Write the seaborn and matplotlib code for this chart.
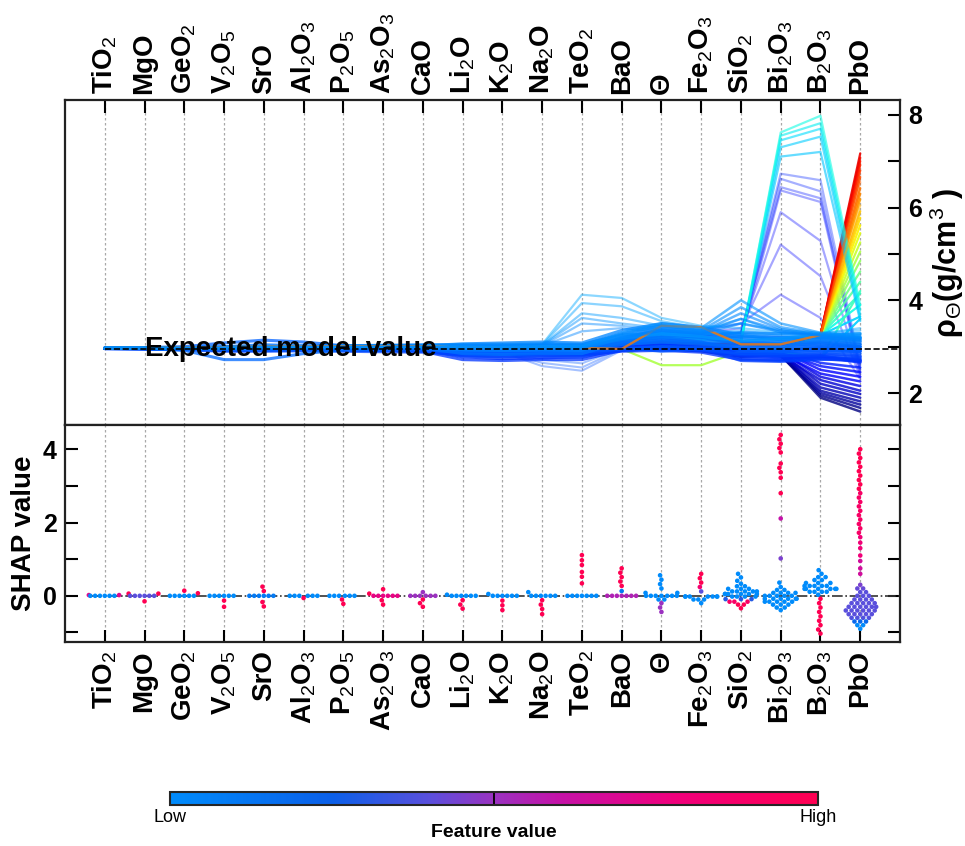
import numpy as np
import pandas as pd
import matplotlib
matplotlib.use("Agg")
import matplotlib.pyplot as plt
import seaborn as sns
from matplotlib.colors import LinearSegmentedColormap, Normalize
from matplotlib.cm import ScalarMappable
from matplotlib.ticker import FixedLocator

sns.set_style("white")
plt.rcParams["font.family"] = ["Liberation Sans", "DejaVu Sans"]
plt.rcParams["mathtext.fontset"] = "custom"
plt.rcParams["mathtext.rm"] = "Liberation Sans"
plt.rcParams["mathtext.it"] = "Liberation Sans:italic"
plt.rcParams["mathtext.bf"] = "Liberation Sans:bold"
for key in ("text.color", "axes.labelcolor", "xtick.color", "ytick.color"):
    plt.rcParams[key] = "black"

# ---------------- data ----------------
features = ["TiO2", "MgO", "GeO2", "V2O5", "SrO", "Al2O3", "P2O5", "As2O3", "CaO", "Li2O",
            "K2O", "Na2O", "TeO2", "BaO", "Θ", "Fe2O3", "SiO2", "Bi2O3", "B2O3", "PbO"]
feature_labels = ["TiO$_2$", "MgO", "GeO$_2$", "V$_2$O$_5$", "SrO", "Al$_2$O$_3$", "P$_2$O$_5$",
                  "As$_2$O$_3$", "CaO", "Li$_2$O", "K$_2$O", "Na$_2$O", "TeO$_2$", "BaO", "Θ",
                  "Fe$_2$O$_3$", "SiO$_2$", "Bi$_2$O$_3$", "B$_2$O$_3$", "PbO"]
expected_value = 2.96

# decision paths (cumulative model output after each feature)
main_lines = [
    [2.97,2.97,2.98,2.98,3.00,3.00,3.01,3.02,3.03,3.05,3.05,3.06,3.05,3.25,3.30,3.28,3.30,3.28,3.25,3.20],
    [2.97,2.97,2.97,2.96,2.97,2.97,2.98,2.99,3.00,3.02,3.02,3.03,3.02,3.15,3.20,3.18,3.22,3.20,3.18,3.10],
    [2.96,2.96,2.95,2.94,2.95,2.95,2.96,2.96,2.96,2.95,2.95,2.96,2.95,3.05,3.10,3.08,3.05,3.05,3.05,3.00],
    [2.96,2.95,2.94,2.92,2.92,2.93,2.93,2.92,2.92,2.88,2.87,2.88,2.88,2.95,3.00,2.98,2.95,2.92,2.95,2.90],
    [2.96,2.95,2.93,2.90,2.90,2.91,2.90,2.89,2.88,2.82,2.80,2.82,2.82,2.92,2.95,2.92,2.85,2.80,2.82,2.78],
    [2.96,2.96,2.96,2.97,2.99,2.98,2.97,2.96,2.95,2.90,2.88,2.90,2.90,3.00,3.05,3.02,2.90,2.80,2.75,2.70],
    [2.96,2.97,2.98,3.00,3.04,3.02,3.01,3.00,3.00,2.98,2.97,2.98,2.97,3.10,3.15,3.12,3.10,3.08,3.12,3.05],
    [2.97,2.97,2.97,2.97,2.98,2.98,2.98,2.98,2.98,2.93,2.92,2.93,2.92,3.20,3.35,3.30,3.20,3.15,3.20,3.15],
    [2.96,2.96,2.95,2.93,2.94,2.94,2.94,2.94,2.93,2.86,2.84,2.86,2.85,3.00,3.05,3.00,2.75,2.72,2.78,2.72],
    [2.96,2.96,2.96,2.95,2.96,2.96,2.96,2.95,2.95,2.92,2.90,2.92,2.91,2.98,2.90,2.95,2.85,2.85,2.88,2.85],
    [2.97,2.97,2.98,2.99,3.01,3.01,3.02,3.03,3.04,3.02,3.02,3.04,3.03,3.28,3.45,3.35,3.15,3.10,3.15,3.12],
    [2.97,2.96,2.95,2.94,2.95,2.96,2.97,2.97,2.97,2.93,2.92,2.94,2.93,3.10,3.20,3.10,2.90,2.88,2.92,2.90],
    [2.96,2.96,2.96,2.96,2.97,2.97,2.97,2.97,2.96,2.90,2.88,2.89,2.88,2.96,3.00,2.96,2.70,2.68,2.72,2.75],
    [2.96,2.96,2.97,2.98,3.00,3.00,3.00,3.00,3.00,2.97,2.96,2.97,2.96,3.12,3.25,3.20,3.05,3.00,3.08,3.00],
    [2.97,2.96,2.92,2.72,2.72,2.85,2.93,2.95,2.95,2.92,2.91,2.92,2.91,3.05,3.10,3.05,3.00,2.98,3.02,3.00],
    [2.97,2.98,3.00,3.08,3.14,3.10,3.02,3.00,2.99,2.95,2.94,2.95,2.94,3.05,3.12,3.08,3.00,2.95,3.00,2.95],
    [2.96,2.96,2.95,2.95,2.96,2.96,2.96,2.95,2.94,2.78,2.74,2.76,2.78,2.94,2.98,2.95,2.82,2.78,2.80,2.66],
    [2.97,2.97,2.97,2.98,2.99,2.99,3.00,3.00,3.00,2.99,2.98,3.00,3.00,3.18,3.28,3.22,3.12,3.18,3.25,3.28],
    [2.96,2.96,2.95,2.94,2.94,2.94,2.93,2.92,2.90,2.72,2.70,2.72,2.72,2.92,2.96,2.92,2.80,2.76,2.80,2.70],
    [2.96,2.96,2.96,2.95,2.95,2.95,2.95,2.94,2.92,2.80,2.78,2.80,2.80,2.96,3.00,2.96,2.82,2.80,2.85,2.80],
    [2.97,2.97,2.97,2.97,2.98,2.98,2.98,2.98,2.97,2.85,2.83,2.85,2.85,3.10,3.30,3.25,3.10,3.05,3.10,3.05],
    [2.97,2.97,2.98,2.99,3.00,3.00,3.01,3.02,3.02,3.06,3.08,3.10,3.08,3.35,3.50,3.42,3.25,3.15,3.20,3.18],
    [2.96,2.96,2.96,2.96,2.97,2.97,2.97,2.96,2.95,2.88,2.86,2.88,2.86,3.05,3.15,3.08,2.95,2.90,2.98,2.92],
    [2.96,2.95,2.94,2.93,2.93,2.93,2.93,2.92,2.91,2.84,2.82,2.84,2.83,2.90,2.92,2.88,2.72,2.70,2.74,2.68],
]
teo2_high_lines = [
    [2.97,2.97,2.98,2.98,2.99,3.00,3.00,3.01,3.01,3.02,3.03,3.05,4.12,4.05,3.62,3.45,3.40,3.30,3.28,3.40],
    [2.97,2.97,2.97,2.97,2.98,2.98,2.99,3.00,3.00,3.01,3.02,3.04,3.94,3.87,3.55,3.40,3.50,3.35,3.30,3.35],
    [2.96,2.96,2.97,2.97,2.98,2.98,2.99,2.99,3.00,3.01,3.01,3.03,3.72,3.62,3.45,3.35,3.60,3.30,3.25,3.30],
    [2.97,2.97,2.97,2.98,2.99,2.99,3.00,3.00,3.01,3.02,3.02,3.03,3.62,3.50,3.40,3.30,3.35,3.25,3.22,3.25],
    [2.96,2.96,2.96,2.97,2.97,2.98,2.98,2.99,2.99,3.00,3.01,3.02,3.50,3.45,3.35,3.28,3.30,3.22,3.20,3.20],
    [2.97,2.97,2.97,2.97,2.98,2.98,2.98,2.99,2.99,3.00,3.00,3.02,3.33,3.40,3.30,3.25,3.28,3.20,3.18,3.18],
]
teo2_low_lines = [
    [2.96,2.96,2.95,2.95,2.95,2.95,2.94,2.94,2.93,2.90,2.88,2.58,2.48,2.92,3.00,2.95,2.90,2.85,2.90,2.85],
    [2.96,2.96,2.96,2.95,2.95,2.95,2.95,2.94,2.94,2.91,2.89,2.65,2.55,2.95,3.02,2.97,2.92,2.88,2.92,2.88],
    [2.96,2.96,2.96,2.96,2.96,2.96,2.95,2.95,2.95,2.92,2.90,2.72,2.64,2.96,3.04,2.98,2.94,2.90,2.95,2.92],
    [2.97,2.97,2.96,2.96,2.96,2.96,2.96,2.96,2.95,2.93,2.92,2.78,2.75,2.97,3.05,3.00,2.96,2.92,2.96,2.95],
]
sio2_peak_lines = [
    [2.97,2.97,2.97,2.98,2.99,2.99,3.00,3.00,3.00,2.99,2.99,3.00,3.00,3.30,3.50,3.40,4.00,3.50,3.30,3.25],
    [2.97,2.97,2.97,2.97,2.98,2.98,2.99,2.99,2.99,2.98,2.98,2.99,2.99,3.25,3.45,3.35,3.85,3.42,3.28,3.22],
    [2.96,2.96,2.97,2.97,2.98,2.98,2.98,2.99,2.99,2.98,2.97,2.98,2.98,3.22,3.40,3.32,3.72,3.38,3.26,3.20],
    [2.96,2.96,2.96,2.97,2.97,2.97,2.98,2.98,2.98,2.97,2.96,2.97,2.97,3.18,3.38,3.30,3.60,3.35,3.25,3.18],
    [2.97,2.97,2.97,2.97,2.98,2.98,2.98,2.98,2.98,2.97,2.97,2.98,2.98,3.15,3.35,3.28,3.50,3.32,3.24,3.15],
]
bi2o3_high_lines = [
    [2.97,2.97,2.97,2.98,2.99,2.99,3.00,3.00,3.00,2.99,2.98,2.99,2.99,3.15,3.25,3.20,3.10,7.62,7.98,3.90],
    [2.97,2.97,2.97,2.97,2.98,2.98,2.99,2.99,2.99,2.98,2.97,2.98,2.98,3.12,3.22,3.18,3.12,7.55,7.82,3.80],
    [2.96,2.96,2.97,2.97,2.98,2.98,2.98,2.99,2.99,2.98,2.97,2.98,2.98,3.10,3.20,3.15,3.08,7.45,7.70,3.70],
    [2.96,2.96,2.96,2.97,2.97,2.97,2.98,2.98,2.98,2.97,2.96,2.97,2.97,3.14,3.24,3.18,3.10,7.30,7.53,3.60],
    [2.97,2.97,2.97,2.97,2.98,2.98,2.98,2.98,2.98,2.97,2.97,2.98,2.98,3.10,3.18,3.14,3.15,7.10,7.20,3.55],
]
bi2o3_mid_lines = [
    [2.97,2.97,2.97,2.98,2.99,2.99,3.00,3.00,3.00,2.98,2.97,2.98,2.98,3.15,3.30,3.25,3.30,6.73,6.59,2.60],
    [2.96,2.96,2.97,2.97,2.98,2.98,2.99,2.99,2.99,2.97,2.96,2.97,2.97,3.12,3.25,3.20,3.25,6.62,6.35,2.55],
    [2.97,2.97,2.97,2.97,2.98,2.98,2.98,2.99,2.99,2.97,2.97,2.98,2.98,3.14,3.28,3.22,3.30,6.44,6.20,2.50],
    [2.96,2.96,2.96,2.97,2.97,2.97,2.98,2.98,2.98,2.96,2.96,2.97,2.97,3.10,3.22,3.18,3.20,6.37,6.12,2.45],
    [2.97,2.97,2.97,2.98,2.98,2.98,2.99,2.99,2.99,2.97,2.97,2.98,2.98,3.16,3.30,3.24,3.30,5.90,5.28,2.40],
    [2.96,2.96,2.97,2.97,2.98,2.98,2.98,2.98,2.98,2.96,2.96,2.97,2.97,3.18,3.35,3.30,3.40,5.20,4.52,2.35],
    [2.97,2.97,2.97,2.97,2.98,2.98,2.98,2.99,2.99,2.97,2.97,2.98,2.98,3.20,3.40,3.35,3.50,4.12,3.62,2.30],
]
low_fan_lines = [
    [2.96,2.96,2.95,2.94,2.94,2.94,2.94,2.93,2.92,2.86,2.84,2.85,2.84,2.92,2.95,2.90,2.78,2.82,1.90,1.60],
    [2.96,2.96,2.96,2.96,2.97,2.97,2.97,2.97,2.96,2.92,2.91,2.92,2.91,3.00,3.05,3.00,2.85,2.84,1.95,1.68],
    [2.97,2.97,2.97,2.98,2.99,2.99,2.99,2.99,2.99,2.96,2.95,2.96,2.95,3.05,3.10,3.05,2.88,2.80,2.00,1.75],
    [2.96,2.96,2.95,2.93,2.93,2.94,2.94,2.94,2.94,2.89,2.88,2.89,2.88,2.96,3.00,2.97,2.86,2.85,2.05,1.82],
    [2.96,2.96,2.96,2.96,2.97,2.97,2.98,2.98,2.98,2.95,2.94,2.95,2.94,3.02,3.08,3.04,2.90,2.83,2.12,1.90],
    [2.96,2.95,2.94,2.92,2.92,2.93,2.93,2.93,2.92,2.87,2.86,2.87,2.86,2.94,2.98,2.94,2.80,2.86,2.20,1.98],
    [2.97,2.97,2.97,2.97,2.98,2.98,2.98,2.98,2.98,2.94,2.93,2.94,2.93,3.00,3.04,3.00,2.84,2.82,2.28,2.05],
    [2.96,2.96,2.96,2.95,2.96,2.96,2.96,2.96,2.95,2.90,2.89,2.90,2.89,2.98,3.02,2.98,2.88,2.88,2.35,2.15],
    [2.97,2.97,2.98,2.99,3.00,3.00,3.00,3.00,3.00,2.97,2.96,2.97,2.96,3.04,3.10,3.06,2.92,2.85,2.42,2.25],
    [2.96,2.96,2.95,2.94,2.95,2.95,2.95,2.95,2.95,2.91,2.90,2.91,2.90,2.97,3.01,2.97,2.90,2.90,2.50,2.35],
    [2.96,2.96,2.96,2.96,2.97,2.97,2.97,2.97,2.97,2.93,2.92,2.93,2.92,3.00,3.05,3.01,2.92,2.88,2.58,2.45],
    [2.97,2.97,2.97,2.98,2.99,2.99,2.99,2.99,2.99,2.95,2.94,2.95,2.94,3.02,3.07,3.03,2.95,2.92,2.65,2.55],
]
# high-PbO fan: shared path up to B2O3, then individual end values at PbO
fan_prefix_bump = [2.97,2.97,2.98,2.99,3.00,3.00,3.01,3.01,3.01,2.98,2.97,2.98,2.97,2.95,3.45,3.42,3.05,3.05,3.25]
fan_final_bump = [6.55, 6.05]
fan_prefix_flat = [2.97,2.97,2.97,2.97,2.98,2.98,2.98,2.98,2.98,2.95,2.94,2.95,2.94,2.95,3.10,3.05,3.06,3.04,3.25]
fan_final_flat = [7.17, 7.08, 7.00, 6.92, 6.80, 6.66, 6.42, 6.30, 6.18, 5.92, 5.78, 5.62, 5.45,
                  5.25, 4.85, 4.62, 4.40, 4.15, 3.90, 3.65]
fan_prefix_dip = [2.96,2.96,2.96,2.96,2.97,2.97,2.97,2.97,2.97,2.94,2.93,2.94,2.93,2.95,2.60,2.60,2.90,2.95,3.25]
fan_final_dip = [5.05]
fan_prefix_low = [2.96,2.96,2.96,2.96,2.97,2.97,2.97,2.97,2.97,2.94,2.93,2.94,2.93,2.95,3.00,2.98,2.95,2.90,2.75]
fan_final_low = [4.20, 3.60]

# beeswarm: SHAP value levels, number of samples at each level, normalised feature value
swarm_shap = {
    "TiO2": [0.02, 0.0],
    "MgO": [0.06, 0.0, -0.15],
    "GeO2": [0.14, 0.07, 0.0],
    "V2O5": [0.0, -0.13, -0.3],
    "SrO": [0.25, 0.13, 0.0, -0.17, -0.29],
    "Al2O3": [0.0, -0.06],
    "P2O5": [0.0, -0.1, -0.22],
    "As2O3": [0.18, 0.06, 0.0, -0.12, -0.24],
    "CaO": [0.1, 0.0, -0.1, -0.2, -0.3],
    "Li2O": [0.03, 0.0, -0.12, -0.24, -0.35],
    "K2O": [0.05, 0.0, -0.13, -0.26, -0.39],
    "Na2O": [0.1, 0.0, -0.12, -0.24, -0.36, -0.5],
    "TeO2": [1.11, 0.97, 0.84, 0.65, 0.52, 0.34, 0.0],
    "BaO": [0.75, 0.63, 0.51, 0.39, 0.27, 0.13, 0.0],
    "Θ": [0.56, 0.44, 0.32, 0.2, 0.08, 0.0, -0.1, -0.2, -0.32, -0.44],
    "Fe2O3": [0.6, 0.48, 0.36, 0.24, 0.12, -0.02, -0.1, -0.2],
    "SiO2": [0.6, 0.5, 0.41, 0.33, 0.26, 0.19, 0.12, 0.05, -0.02, -0.09, -0.16, -0.24, -0.34],
    "Bi2O3": [4.39, 4.27, 4.15, 4.03, 3.91, 3.61, 3.49, 3.37, 3.22, 2.8, 2.11, 1.02, 0.36,
              0.24, 0.16, 0.08, 0.0, -0.08, -0.16, -0.24, -0.32, -0.39],
    "B2O3": [0.7, 0.6, 0.51, 0.43, 0.35, 0.27, 0.19, 0.11, 0.03,
             -0.08, -0.2, -0.32, -0.44, -0.56, -0.68, -0.8, -0.92, -1.03],
    "PbO": [4.0, 3.88, 3.76, 3.64, 3.52, 3.4, 3.28, 3.16, 3.04, 2.92, 2.8, 2.68, 2.56, 2.44,
            2.32, 2.2, 2.08, 1.96, 1.84, 1.72, 1.6, 1.45, 1.3, 1.1, 0.95, 0.75, 0.6,
            0.3, 0.2, 0.1, 0.0, -0.1, -0.2, -0.3, -0.4, -0.5, -0.6, -0.7, -0.8, -0.9],
}
swarm_count = {
    "TiO2": [2, 6], "MgO": [2, 6, 1], "GeO2": [1, 1, 6], "V2O5": [6, 1, 1],
    "SrO": [1, 1, 6, 1, 1], "Al2O3": [6, 1], "P2O5": [6, 1, 1], "As2O3": [1, 1, 6, 1, 1],
    "CaO": [1, 6, 1, 1, 1], "Li2O": [1, 6, 1, 1, 1], "K2O": [1, 6, 1, 1, 1],
    "Na2O": [1, 6, 1, 1, 1, 1], "TeO2": [1, 1, 1, 1, 1, 1, 7], "BaO": [1, 1, 1, 1, 1, 1, 7],
    "Θ": [1, 1, 1, 1, 2, 7, 2, 1, 1, 1], "Fe2O3": [1, 1, 1, 1, 1, 7, 3, 1],
    "SiO2": [1, 1, 1, 1, 2, 3, 5, 6, 4, 3, 3, 2, 1],
    "Bi2O3": [1, 1, 1, 1, 1, 1, 1, 1, 1, 1, 1, 1, 1, 1, 2, 4, 5, 6, 5, 3, 2, 1],
    "B2O3": [1, 1, 2, 2, 3, 5, 6, 4, 1, 1, 1, 1, 1, 1, 1, 1, 1, 1],
    "PbO": [1] * 27 + [1, 2, 2, 3, 4, 5, 6, 6, 5, 4, 3, 2, 1],
}
swarm_fval = {
    "TiO2": [0.7, 0.0], "MgO": [1.0, 0.4, 1.0], "GeO2": [1.0, 1.0, 0.0], "V2O5": [0.0, 1.0, 1.0],
    "SrO": [1.0, 1.0, 0.1, 1.0, 1.0], "Al2O3": [0.0, 1.0], "P2O5": [0.0, 1.0, 1.0],
    "As2O3": [1.0, 1.0, 0.75, 1.0, 1.0], "CaO": [0.5, 0.5, 1.0, 1.0, 1.0],
    "Li2O": [0.0, 0.0, 1.0, 1.0, 1.0], "K2O": [0.0, 0.0, 1.0, 1.0, 1.0],
    "Na2O": [0.0, 0.0, 1.0, 1.0, 1.0, 1.0], "TeO2": [1.0, 1.0, 1.0, 1.0, 1.0, 1.0, 0.0],
    "BaO": [1.0, 1.0, 1.0, 1.0, 1.0, 0.1, 0.55],
    "Θ": [0.0, 0.0, 0.0, 0.0, 0.0, 0.0, 0.0, 0.5, 0.5, 0.5],
    "Fe2O3": [1.0, 1.0, 1.0, 0.85, 0.4, 0.0, 0.0, 0.0],
    "SiO2": [0.0, 0.0, 0.0, 0.0, 0.0, 0.0, 0.0, 0.0, 0.0, 0.3, 0.9, 1.0, 1.0],
    "Bi2O3": [1.0, 1.0, 1.0, 1.0, 1.0, 1.0, 1.0, 1.0, 1.0, 1.0, 0.6, 0.45, 0.0,
              0.0, 0.0, 0.0, 0.0, 0.0, 0.0, 0.0, 0.0, 0.0],
    "B2O3": [0.0] * 9 + [1.0] * 9,
    "PbO": [1.0] * 10 + [0.9] * 10 + [0.8] * 4 + [0.65] * 3
           + [0.45, 0.42, 0.4, 0.4, 0.4, 0.4, 0.4, 0.4, 0.4, 0.38, 0.2, 0.0, 0.0],
}

# ---------------- build tables ----------------
def long_table(lines, start_id):
    rows = []
    for k, path in enumerate(lines):
        for i, v in enumerate(path):
            rows.append((start_id + k, i, v, path[-1]))
    return pd.DataFrame(rows, columns=["line", "pos", "value", "final"])

fan_lines = ([fan_prefix_flat + [f] for f in fan_final_flat]
             + [fan_prefix_dip + [f] for f in fan_final_dip]
             + [fan_prefix_low + [f] for f in fan_final_low])
fan_bump_lines = [fan_prefix_bump + [f] for f in fan_final_bump]

groups = [  # (lines, alpha, linewidth) in drawing order
    (bi2o3_mid_lines, 0.35, 1.6),
    (low_fan_lines, 0.8, 1.8),
    (fan_lines, 0.9, 1.6),
    (teo2_low_lines, 0.35, 1.5),
    (teo2_high_lines, 0.45, 1.6),
    (bi2o3_high_lines, 0.6, 1.6),
    (main_lines, 0.75, 2.2),
    (fan_bump_lines, 0.55, 1.6),
    (sio2_peak_lines, 0.6, 1.8),
]

swarm_rows = []
for f in features:
    for s, c, fv in zip(swarm_shap[f], swarm_count[f], swarm_fval[f]):
        for _ in range(c):
            swarm_rows.append((f, s, fv))
swarm_df = pd.DataFrame(swarm_rows, columns=["feature", "shap", "fval"])

shap_cmap = LinearSegmentedColormap.from_list(
    "shap_rb", [(0.0, "#008bfb"), (0.25, "#0b5fe8"), (0.4, "#5a4fdc"), (0.5, "#9a32c0"),
                (0.6, "#c412a8"), (0.78, "#f0007c"), (1.0, "#ff0052")])
jet_cmap = matplotlib.colormaps["jet"]
line_norm = Normalize(1.6, 7.75)

# ---------------- figure ----------------
W, H = 965, 846
fig = plt.figure(figsize=(W / 100, H / 100), dpi=100)
ax_top = fig.add_axes([65 / W, 421 / H, 835 / W, 325 / H])
ax_bot = fig.add_axes([65 / W, 204 / H, 835 / W, 217 / H])
cax = fig.add_axes([170 / W, 41 / H, 648 / W, 13 / H])

# top: decision plot
lid = 0
for lines, a, lw in groups:
    df = long_table(lines, lid)
    lid += len(lines)
    sns.lineplot(data=df, x="pos", y="value", units="line", estimator=None, hue="final",
                 palette=jet_cmap, hue_norm=line_norm, legend=False, alpha=a, lw=lw,
                 sort=False, ax=ax_top)
ax_top.axhline(expected_value, xmin=1 / 21, color="black", ls="--", lw=1.2, zorder=5)
ax_top.text(1.0, expected_value, "Expected model value", fontsize=20, fontweight="bold",
            ha="left", va="center", zorder=10, color="black")

ax_top.set_xlim(-1.0, 20.0)
ax_top.set_ylim(1.31, 8.32)
ax_top.set_xticks(range(len(features)))
ax_top.set_xticklabels(feature_labels, rotation=90, fontsize=20, fontweight="bold")
ax_top.xaxis.tick_top()
ax_top.yaxis.tick_right()
ax_top.yaxis.set_label_position("right")
ax_top.set_yticks([2, 4, 6, 8])
ax_top.set_yticklabels(["2", "4", "6", "8"], fontsize=18, fontweight="bold")
ax_top.yaxis.set_minor_locator(FixedLocator([3, 5, 7]))
ax_top.tick_params(axis="x", which="both", top=True, bottom=False, direction="in",
                   length=9, width=1.5, pad=4)
ax_top.tick_params(axis="y", which="both", right=True, left=False, direction="in",
                   length=9, width=1.5, pad=6)
ax_top.set_xlabel("")
ax_top.set_ylabel(r"ρ$_{\mathrm{Θ}}$(g/cm$^{3}$ )", fontsize=22, fontweight="bold", labelpad=4)
ax_top.grid(axis="x", ls=(0, (2, 2)), color="#a8a8a8", lw=0.9)
ax_top.grid(axis="y", visible=False)
ax_top.set_axisbelow(True)

# bottom: beeswarm
sns.swarmplot(data=swarm_df, x="feature", y="shap", hue="fval", order=features,
              palette=shap_cmap, hue_norm=(0, 1), size=3.3, linewidth=0, legend=False,
              warn_thresh=1.0, ax=ax_bot, zorder=3)
ax_bot.axhline(0, xmin=0.03, color="#333333", ls="-.", lw=1.2, zorder=2)
ax_bot.set_xlim(-1.0, 20.0)
ax_bot.set_ylim(-1.26, 4.66)
ax_bot.set_xticks(range(len(features)))
ax_bot.set_xticklabels(feature_labels, rotation=90, fontsize=20, fontweight="bold")
ax_bot.set_yticks([0, 2, 4])
ax_bot.set_yticklabels(["0", "2", "4"], fontsize=18, fontweight="bold")
ax_bot.yaxis.set_minor_locator(FixedLocator([-1, 1, 3]))
ax_bot.tick_params(axis="x", which="both", bottom=True, top=False, direction="in",
                   length=9, width=1.5, pad=6)
ax_bot.tick_params(axis="y", which="both", left=True, right=True, direction="in",
                   length=9, width=1.5, pad=6)
ax_bot.set_xlabel("")
ax_bot.set_ylabel("SHAP value", fontsize=20, fontweight="bold", labelpad=4)
ax_bot.grid(axis="x", ls=(0, (2, 2)), color="#a8a8a8", lw=0.9)
ax_bot.grid(axis="y", visible=False)
ax_bot.set_axisbelow(True)

for ax in (ax_top, ax_bot):
    for sp in ax.spines.values():
        sp.set_visible(True)
        sp.set_color("#222222")
        sp.set_linewidth(1.6)

# colour bar
sm = ScalarMappable(norm=Normalize(0, 1), cmap=shap_cmap)
cb = fig.colorbar(sm, cax=cax, orientation="horizontal")
cb.set_ticks([])
cb.outline.set_linewidth(1.5)
cax.axvline(0.5, color="black", lw=1.3)
fig.text(170 / W, 29 / H, "Low", fontsize=13, ha="center", va="center")
fig.text(818 / W, 29 / H, "High", fontsize=13, ha="center", va="center")
fig.text(494 / W, 14 / H, "Feature value", fontsize=14, fontweight="bold",
         ha="center", va="center")

fig.savefig("out.png", dpi=100)
